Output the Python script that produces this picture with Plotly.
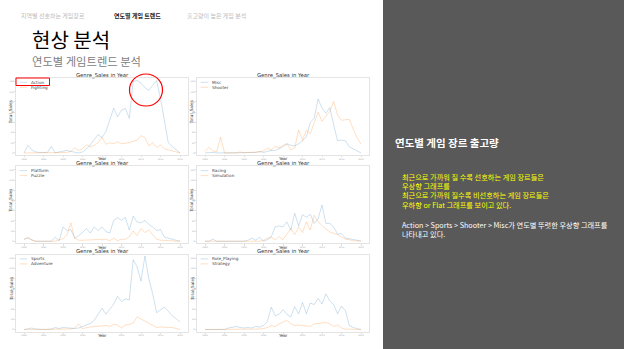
import plotly.graph_objects as go

W, H = 624, 349
years = list(range(1980, 2021))

action = [0,15,6,2,1,1,1,13,0,2, 3,5,3,1,0,2,8,16,26,36,
          30,42,65,88,71,84,87,68,140,142, 137,128,123,132,142,107,63,20,13,7, 0]
fighting = [0,0,0,0,0,0,0,0,0,0, 0,1,3,10,5,8,16,12,15,20,
            31,17,20,18,22,18,19,20,23,25, 34,30,14,20,11,16,8,6,5,3, 0]
misc = [0,1,1,0,0,0,0,0,0,0, 0,0,1,1,3,1,3,5,5,8,
        12,18,15,14,18,24,32,60,68,106, 88,78,89,55,24,25,24,12,8,5, 0]
shooter = [3,11,4,2,31,0,0,0,0,2, 0,1,1,1,2,4,9,6,13,10,
           15,18,6,10,45,25,45,38,60,80, 62,72,82,101,74,64,65,66,47,30, 17]
platform = [4,6,3,0,0,0,0,0,8,1, 28,21,23,6,11,17,25,16,28,21,
            28,19,16,41,46,41,47,22,49,38, 36,41,33,28,21,23,8,6,4,3, 0]
puzzle = [4,8,2,0,0,0,0,0,0,3, 5,12,36,6,2,2,2,2,3,4,
          3,4,1,6,1,4,4,9,20,11, 25,17,22,13,4,2,2,1,1,0, 0]
racing = [0,0,4,0,0,0,0,0,0,0, 0,2,6,2,8,0,3,9,28,30,
          28,38,22,55,30,52,47,53,35,44, 71,35,35,28,14,15,6,5,4,2, 0]
simulation = [0,0,0,0,0,0,0,0,0,0, 0,0,0,0,0,2,6,8,3,9,
              3,14,25,13,28,17,38,22,51,38, 30,24,18,16,13,8,4,3,1,1, 0]
sports = [0,1,3,1,0,0,0,1,4,2, 4,3,2,2,3,6,8,12,18,30,
          42,30,40,50,65,55,60,58,137,123, 95,144,100,70,33,38,44,36,27,21, 15]
adventure = [0,0,0,0,0,0,0,0,0,0, 0,0,1,3,11,2,4,5,6,6,
             7,8,6,10,9,3,9,10,13,25, 21,17,13,8,4,5,5,5,4,2, 0]
role_playing = [0,0,0,0,0,0,3,4,6,4, 3,4,3,6,5,8,16,44,27,30,
                39,30,25,45,31,53,31,52,49,61, 50,70,56,49,31,46,37,8,4,2, 0]
strategy = [0,0,0,0,0,0,0,0,0,0, 0,0,0,0,1,2,4,8,6,11,
            14,18,11,8,9,8,7,6,11,12, 13,14,11,6,9,3,1,1,0,0, 0]

pairs = [("Action", action, "Fighting", fighting),
         ("Misc", misc, "Shooter", shooter),
         ("Platform", platform, "Puzzle", puzzle),
         ("Racing", racing, "Simulation", simulation),
         ("Sports", sports, "Adventure", adventure),
         ("Role_Playing", role_playing, "Strategy", strategy)]

x_ticks = list(range(1980, 2021, 5))
y_ticks = list(range(0, 141, 20))

BLUE = "rgba(31,119,180,0.22)"
ORANGE = "rgba(255,127,14,0.25)"
CF = "DejaVu Sans"
KF = "Noto Sans CJK KR"

def px(x):
    return x / W

def py(y):
    return 1 - y / H

col_px = [(16.2, 187.8), (197.2, 368.8)]
row_px = [(78.0, 155.0), (166.3, 243.3), (254.6, 331.6)]

fig = go.Figure()
shapes = []
ann = []

# right dark panel
shapes.append(dict(type="rect", xref="paper", yref="paper", x0=px(383), x1=1, y0=0, y1=1,
                   fillcolor="#595959", line=dict(width=0), layer="below"))

for i, (n1, s1, n2, s2) in enumerate(pairs):
    r, c = divmod(i, 2)
    k = "" if i == 0 else str(i + 1)
    xa, ya = "x" + k, "y" + k
    x0p, x1p = col_px[c]
    y0p, y1p = row_px[r]
    fig.add_trace(go.Scatter(x=years, y=s1, mode="lines", name=n1, xaxis=xa, yaxis=ya,
                             line=dict(color=BLUE, width=1), showlegend=False))
    fig.add_trace(go.Scatter(x=years, y=s2, mode="lines", name=n2, xaxis=xa, yaxis=ya,
                             line=dict(color=ORANGE, width=1), showlegend=False))
    common = dict(showline=True, mirror=True, linecolor="#e4e4e4", linewidth=1,
                  showgrid=False, zeroline=False, ticks="outside", ticklen=1.2,
                  tickcolor="#dddddd", tickfont=dict(size=2.2, color="#aaaaaa", family=CF))
    fig.update_layout(**{
        "xaxis" + k: dict(domain=[px(x0p), px(x1p)], range=[1978, 2022], anchor=ya,
                          tickvals=x_ticks, **common),
        "yaxis" + k: dict(domain=[py(y1p), py(y0p)], range=[-4, 147], anchor=xa,
                          tickvals=y_ticks, **common),
    })
    cx = (x0p + x1p) / 2
    cy = (y0p + y1p) / 2
    ann.append(dict(text="Genre_Sales in Year", x=px(cx), y=py(y0p - 2.8), xref="paper", yref="paper",
                    showarrow=False, font=dict(size=5.3, color="#333333", family=CF),
                    xanchor="center", yanchor="middle", borderpad=0))
    ann.append(dict(text="Year", x=px(cx), y=py(y1p + 3.7), xref="paper", yref="paper",
                    showarrow=False, font=dict(size=4.0, color="#444444", family=CF),
                    xanchor="center", yanchor="middle", borderpad=0))
    ann.append(dict(text="Total_Sales", x=px(x0p - 5.5), y=py(cy - 4), xref="paper", yref="paper",
                    showarrow=False, textangle=-90, font=dict(size=4.2, color="#444444", family=CF),
                    xanchor="center", yanchor="middle", borderpad=0))
    # legend
    for j, (nm, colr) in enumerate([(n1, BLUE), (n2, ORANGE)]):
        ly = y0p + 4.3 + j * 5.0
        shapes.append(dict(type="line", xref="paper", yref="paper",
                           x0=px(x0p + 3.5), x1=px(x0p + 11), y0=py(ly), y1=py(ly),
                           line=dict(color=colr, width=1)))
        ann.append(dict(text=nm, x=px(x0p + 13.5), y=py(ly), xref="paper", yref="paper",
                        showarrow=False, font=dict(size=4.2, color="#444444", family=CF),
                        xanchor="left", yanchor="middle", borderpad=0))

# red highlight marks
shapes.append(dict(type="rect", xref="paper", yref="paper", x0=px(16), x1=px(49.5),
                   y0=py(85.5), y1=py(78), line=dict(color="#ff0000", width=1)))
shapes.append(dict(type="circle", xref="paper", yref="paper", x0=px(129.5), x1=px(162.5),
                   y0=py(106), y1=py(74), line=dict(color="#ff0000", width=1.2)))

# slide header texts
ann += [
    dict(text="지역별 선호하는 게임장르", x=px(19), y=py(15.5), xanchor="left",
         font=dict(size=6, color="#bdbdbd", family=KF)),
    dict(text="<b>연도별 게임 트렌드</b>", x=px(111.5), y=py(15.5), xanchor="left",
         font=dict(size=6, color="#222222", family=KF)),
    dict(text="출고량이 높은 게임 분석", x=px(185), y=py(15.5), xanchor="left",
         font=dict(size=6, color="#bdbdbd", family=KF)),
    dict(text="현상 분석", x=px(29.5), y=py(39.5), xanchor="left",
         font=dict(size=20, color="#000000", family=KF)),
    dict(text="연도별 게임트렌드 분석", x=px(30), y=py(61.5), xanchor="left",
         font=dict(size=11.3, color="#808080", family=KF)),
    dict(text="<b>연도별 게임 장르 출고량</b>", x=px(393), y=py(142.5), xanchor="left",
         font=dict(size=10.5, color="#ffffff", family=KF)),
    dict(text="최근으로 가까워 질 수록 선호하는 게임 장르들은", x=px(400), y=py(176.5), xanchor="left",
         font=dict(size=7.2, color="#ffff00", family=KF)),
    dict(text="우상향 그래프를", x=px(400), y=py(185.5), xanchor="left",
         font=dict(size=7.2, color="#ffff00", family=KF)),
    dict(text="최근으로 가까워 질수록 비선호하는 게임 장르들은", x=px(400), y=py(195), xanchor="left",
         font=dict(size=7.2, color="#ffff00", family=KF)),
    dict(text="우하향 or Flat 그래프를 보이고 있다.", x=px(400), y=py(204.5), xanchor="left",
         font=dict(size=7.2, color="#ffff00", family=KF)),
    dict(text="Action > Sports > Shooter > Misc가 연도별 뚜렷한 우상향 그래프를", x=px(400), y=py(224.5),
         xanchor="left", font=dict(size=7.2, color="#ffffff", family=KF)),
    dict(text="나타내고 있다.", x=px(400), y=py(233.5), xanchor="left",
         font=dict(size=7.2, color="#ffffff", family=KF)),
]
for a in ann:
    a.setdefault("xref", "paper")
    a.setdefault("yref", "paper")
    a.setdefault("showarrow", False)
    a.setdefault("yanchor", "middle")

fig.update_layout(width=W, height=H, margin=dict(l=0, r=0, t=0, b=0),
                  paper_bgcolor="white", plot_bgcolor="white",
                  shapes=shapes, annotations=ann, showlegend=False)
fig.write_html("out.html")
